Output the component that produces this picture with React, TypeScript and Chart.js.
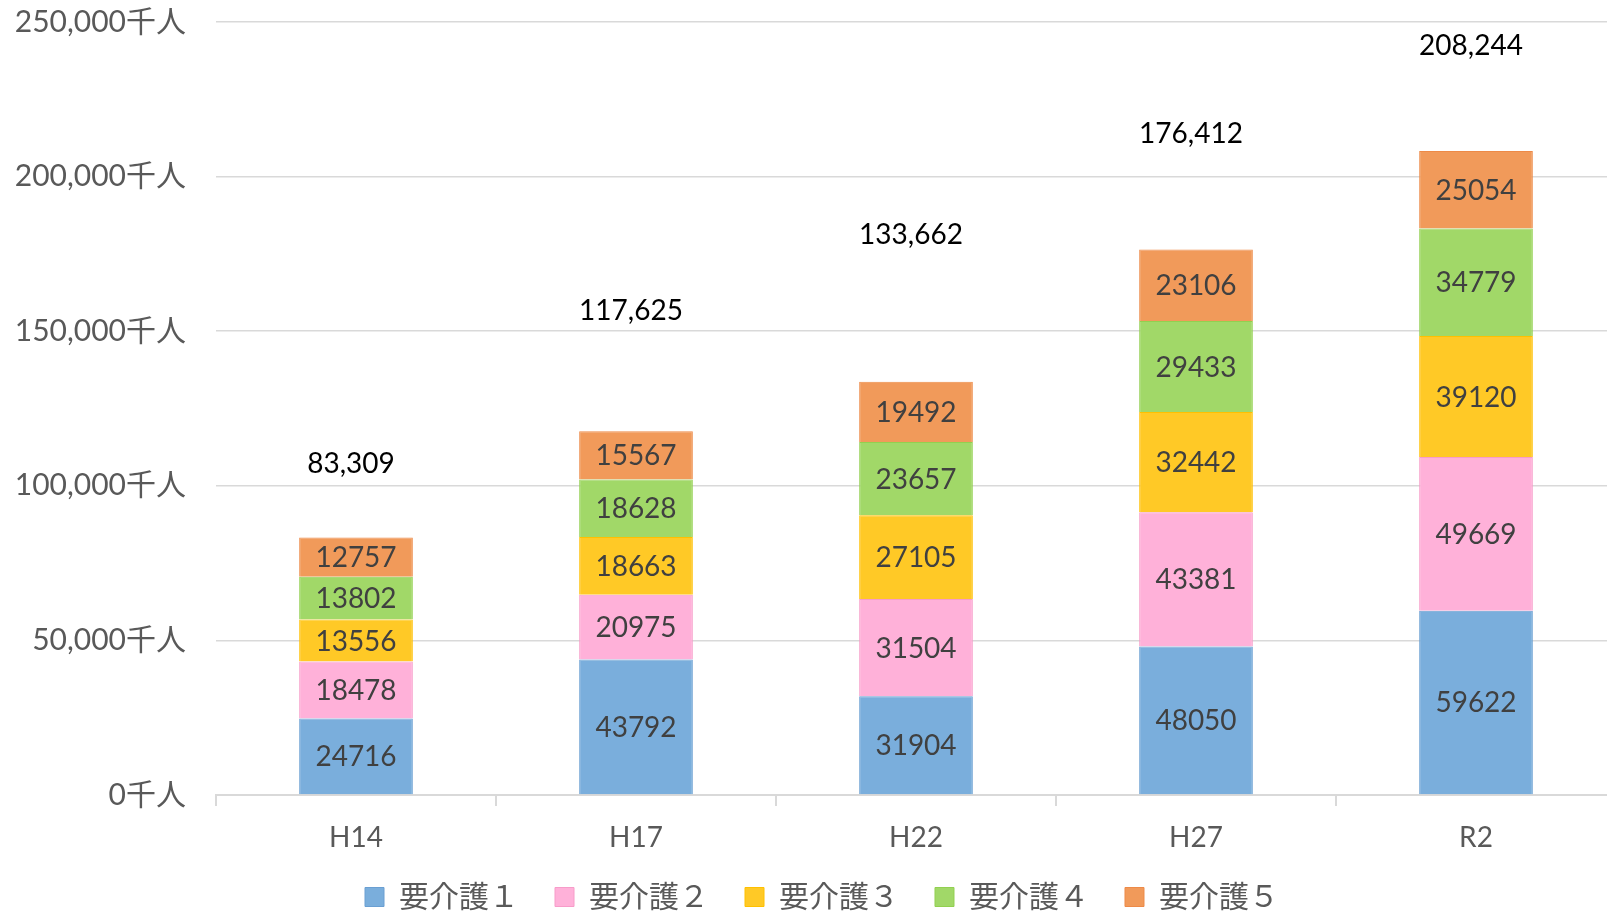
import React, { useEffect, useRef } from "react";
import { Chart, registerables } from "chart.js";

Chart.register(...registerables);

const categories = ["H14", "H17", "H22", "H27", "R2"];
const seriesNames = ["要介護１", "要介護２", "要介護３", "要介護４", "要介護５"];
const care1 = [24716, 43792, 31904, 48050, 59622];
const care2 = [18478, 20975, 31504, 43381, 49669];
const care3 = [13556, 18663, 27105, 32442, 39120];
const care4 = [13802, 18628, 23657, 29433, 34779];
const care5 = [12757, 15567, 19492, 23106, 25054];
// height (in axis units) at which each total label sits
const totalLabelLevels = [107000, 156500, 181000, 213700, 242200];

const fills = ["#7aaedc", "#ffb1d9", "#ffc926", "#a1d868", "#f19a5a"];
const borders = ["#6a9fd2", "#f79cc9", "#ffc000", "#92d050", "#ed8a48"];

const FONT = "Lato, 'Noto Sans CJK JP', sans-serif";

export default function App() {
  const ref = useRef<HTMLCanvasElement | null>(null);
  useEffect(() => {
    const canvas = ref.current;
    if (!canvas) return;
    const seriesValues = [care1, care2, care3, care4, care5];

    const labelPlugin = {
      id: "segLabels",
      afterLayout(chart: any) {
        const lg = chart.legend;
        if (lg) {
          lg.top -= 15;
          lg.bottom -= 15;
          lg.left += 14;
          lg.right += 14;
        }
      },
      afterDatasetsDraw(chart: any) {
        const ctx = chart.ctx;
        ctx.save();
        ctx.font = `28px ${FONT}`;
        ctx.textAlign = "center";
        ctx.textBaseline = "middle";
        ctx.fillStyle = "#404040";
        chart.data.datasets.forEach((ds: any, di: number) => {
          const meta = chart.getDatasetMeta(di);
          meta.data.forEach((el: any, i: number) => {
            const y = (el.y + el.base) / 2;
            ctx.fillText(String(ds.data[i]), el.x, y + 1);
          });
        });
        // totals
        ctx.fillStyle = "#000000";
        const meta0 = chart.getDatasetMeta(0);
        const yScale = chart.scales.y;
        categories.forEach((_c, i) => {
          let total = 0;
          seriesValues.forEach((s) => (total += s[i]));
          const x = meta0.data[i].x - 5;
          const y = yScale.getPixelForValue(totalLabelLevels[i]);
          ctx.fillText(total.toLocaleString("en-US"), x, y);
        });
        ctx.restore();
      },
    };

    const chart = new Chart(canvas, {
      type: "bar",
      data: {
        labels: categories,
        datasets: seriesValues.map((vals, i) => ({
          label: seriesNames[i],
          data: vals,
          backgroundColor: fills[i],
          borderColor: borders[i],
          borderWidth: 1,
          barPercentage: 1,
          categoryPercentage: 0.406,
        })),
      },
      options: {
        responsive: false,
        animation: false,
        devicePixelRatio: 1,
        events: [],
        layout: { padding: { top: 22, right: 0, left: 0, bottom: -23 } },
        plugins: {
          tooltip: { enabled: false },
          legend: {
            position: "bottom",
            labels: {
              boxWidth: 19,
              boxHeight: 19,
              padding: 36,
              color: "#595959",
              font: { family: FONT, size: 30 },
            },
          },
        },
        scales: {
          x: {
            stacked: true,
            grid: {
              drawOnChartArea: false,
              color: "#d9d9d9",
              lineWidth: 2,
              tickLength: 11,
              offset: true,
            },
            border: { color: "#d9d9d9", width: 2 },
            ticks: {
              color: "#595959",
              font: { family: FONT, size: 28 },
              padding: 15,
            },
            afterFit: (scale: any) => {
              scale.height = 66;
            },
          },
          y: {
            stacked: true,
            min: 0,
            max: 250000,
            grid: {
              color: "#d9d9d9",
              lineWidth: 1.5,
              drawTicks: true,
              tickLength: 28,
              tickColor: "rgba(0,0,0,0)",
            },
            border: { display: false },
            ticks: {
              stepSize: 50000,
              color: "#595959",
              font: { family: FONT, size: 30 },
              padding: 2,
              callback: (v: any) => Number(v).toLocaleString("en-US") + "千人",
            },
            afterFit: (scale: any) => {
              scale.width = 216;
            },
          },
        },
      },
      plugins: [labelPlugin],
    });
    return () => chart.destroy();
  }, []);

  return (
    <div
      style={{
        position: "absolute",
        left: 0,
        top: 0,
        width: 1607,
        height: 914,
        overflow: "hidden",
        background: "#ffffff",
      }}
    >
      <canvas ref={ref} width={1616} height={914} style={{ display: "block" }} />
    </div>
  );
}
